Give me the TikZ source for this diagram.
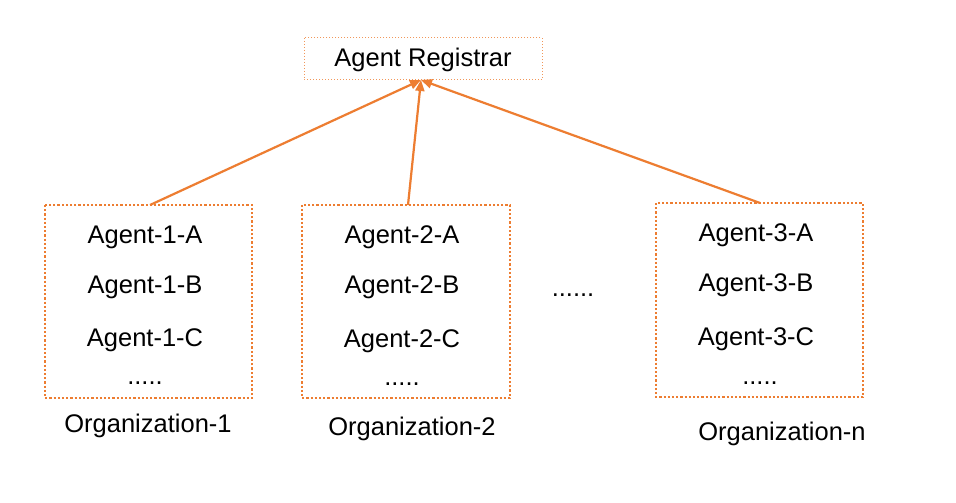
\documentclass[tikz,border=0pt]{standalone}
\usepackage{fontspec}
\setmainfont{Liberation Sans}
\usetikzlibrary{arrows.meta}
\definecolor{org}{HTML}{ED7D31}
\begin{document}
\begin{tikzpicture}[x=1pt,y=-1pt,
  lbl/.style={font=\fontsize{25.5}{30}\selectfont, inner sep=0pt, text height=18.5pt, text depth=5pt},
  orgbox/.style={draw=org, line width=2.2pt, dotted, inner sep=0pt},
  regbox/.style={draw=org!80, line width=1pt, dotted, inner sep=0pt},
  conn/.style={draw=org, line width=2.2pt, -{Triangle[length=11pt,width=9pt]}}]
\useasboundingbox[fill=white] (0,0) rectangle (956,503);
% registrar
\path[regbox] (304,38) rectangle (542,80);
\coordinate (regS) at (421,80);
\node[lbl] (reg) at (423,60) {Agent Registrar};
% org boxes
\path[orgbox] (45,205) rectangle (252,398);
\path[orgbox] (302,205) rectangle (510,398);
\path[orgbox] (656,203) rectangle (863,397);
\coordinate (t1) at (150,205);
\coordinate (t2) at (408,205);
\coordinate (t3) at (760,203);
% texts
\node[lbl] (a1) at (145,237) {Agent-1-A};
\node[lbl] (b1) at (145,287) {Agent-1-B};
\node[lbl] (c1) at (145,340) {Agent-1-C};
\node[lbl] (d1) at (145,378) {.....};
\node[lbl] (o1) at (148,426) {Organization-1};
\node[lbl] (a2) at (402,237) {Agent-2-A};
\node[lbl] (b2) at (402,287) {Agent-2-B};
\node[lbl] (c2) at (402,341) {Agent-2-C};
\node[lbl] (d2) at (402,379) {.....};
\node[lbl] (o2) at (412,429) {Organization-2};
\node[lbl] (a3) at (756,235) {Agent-3-A};
\node[lbl] (b3) at (756,285) {Agent-3-B};
\node[lbl] (c3) at (756,339) {Agent-3-C};
\node[lbl] (d3) at (760,378) {.....};
\node[lbl] (o3) at (782,434) {Organization-n};
\node[lbl] (mid) at (573,290) {......};
% connectors
\draw[conn] (t1) -- (regS);
\draw[conn] (t2) -- (regS);
\draw[conn] (t3) -- (regS);
\end{tikzpicture}
\end{document}
